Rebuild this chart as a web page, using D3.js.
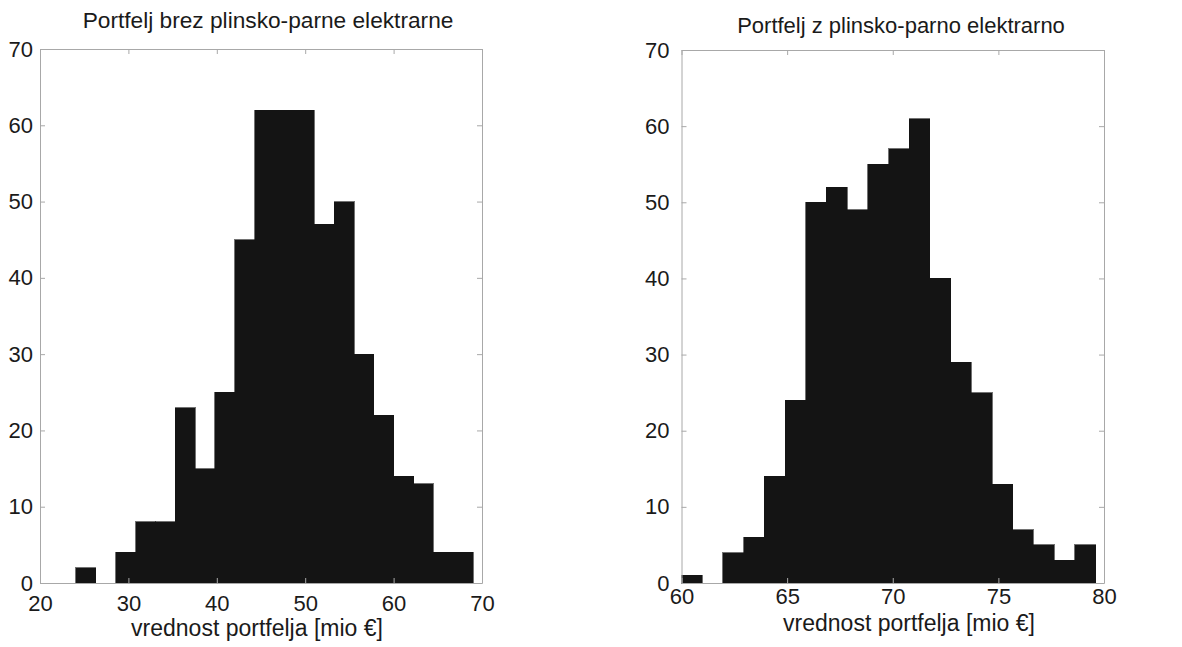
<!DOCTYPE html>
<html lang="sl">
<head>
<meta charset="utf-8">
<title>Portfelj histogrami</title>
<script src="https://cdn.jsdelivr.net/npm/d3@7"></script>
<style>
  body { margin: 0; background: #fff; }
  svg text { font-family: "Liberation Sans", Arial, Helvetica, sans-serif; fill: #1a1a1a; }
  .axis path, .axis line { stroke: #a8a8a8; }
</style>
</head>
<body>
<script>
// --- data ---
// left: portfolio without combined-cycle plant (20 bins between min and max sample)
var leftCounts = [2, 0, 4, 8, 8, 23, 15, 25, 45, 62, 62, 62, 47, 50, 30, 22, 14, 13, 4, 4];
var leftRange = [24.07, 69.0];
var leftTicks = [20, 30, 40, 50, 60, 70];
var leftDomain = [20, 70];

// right: portfolio with combined-cycle plant
var rightCounts = [1, 0, 4, 6, 14, 24, 50, 52, 49, 55, 57, 61, 40, 29, 25, 13, 7, 5, 3, 5];
var rightRange = [60.0, 79.6];
var rightTicks = [60, 65, 70, 75, 80];
var rightDomain = [60, 80];

var yTicks = [0, 10, 20, 30, 40, 50, 60, 70];
var yDomain = [0, 70];

var titles = ["Portfelj brez plinsko-parne elektrarne", "Portfelj z plinsko-parno elektrarno"];
var xLabel = "vrednost portfelja [mio \u20ac]";

var w = 1182, h = 647;
var svg = d3.select("body").append("svg").attr("width", w).attr("height", h);

function drawPanel(p) {
    var x = d3.scaleLinear().domain(p.domain).range([p.left, p.right]);
    var y = d3.scaleLinear().domain(yDomain).range([p.bottom, p.top]);
    var g = svg.append("g");

    // bin edges from the sample range
    var n = p.counts.length;
    var bw = (p.range[1] - p.range[0]) / n;
    var bins = p.counts.map(function(c, i) {
        return { x0: p.range[0] + i * bw, x1: p.range[0] + (i + 1) * bw, c: c };
    });

    g.selectAll("rect.bar")
        .data(bins.filter(function(d) { return d.c > 0; }))
        .enter().append("rect")
        .attr("class", "bar")
        .attr("x", function(d) { return x(d.x0); })
        .attr("width", function(d) { return x(d.x1) - x(d.x0); })
        .attr("y", function(d) { return y(d.c); })
        .attr("height", function(d) { return y(0) - y(d.c); })
        .attr("fill", "#141414")
        .attr("stroke", "#141414")
        .attr("stroke-width", 0.6)
        .attr("shape-rendering", "crispEdges");

    // matlab style box with inward ticks on all sides
    var axB = d3.axisBottom(x).tickValues(p.ticks).tickSize(-5).tickPadding(p.xPad).tickSizeOuter(0);
    var axT = d3.axisTop(x).tickValues(p.ticks).tickSize(-5).tickFormat("").tickSizeOuter(0);
    var axL = d3.axisLeft(y).tickValues(yTicks).tickSize(-5).tickPadding(p.yPad).tickSizeOuter(0);
    var axR = d3.axisRight(y).tickValues(yTicks).tickSize(-5).tickFormat("").tickSizeOuter(0);

    g.append("g").attr("class", "axis").attr("transform", "translate(0," + p.bottom + ")").call(axB);
    g.append("g").attr("class", "axis").attr("transform", "translate(0," + p.top + ")").call(axT);
    g.append("g").attr("class", "axis").attr("transform", "translate(" + p.left + ",0)").call(axL);
    g.append("g").attr("class", "axis").attr("transform", "translate(" + p.right + ",0)").call(axR);

    g.selectAll(".axis text").attr("font-size", "22px").attr("fill", "#1a1a1a")
        .attr("font-family", "Liberation Sans, Arial, sans-serif");
    g.selectAll(".axis .domain").attr("stroke", "#a8a8a8");

    g.append("text")
        .attr("x", p.titleX).attr("y", p.titleY)
        .attr("text-anchor", "middle")
        .attr("font-size", p.titleSize)
        .text(p.title);

    g.append("text")
        .attr("x", p.labelX).attr("y", p.labelY)
        .attr("text-anchor", "middle")
        .attr("font-size", "23px")
        .text(xLabel);
}

drawPanel({
    counts: leftCounts, range: leftRange, domain: leftDomain, ticks: leftTicks,
    left: 40, right: 482, top: 49, bottom: 583,
    xPad: 12, yPad: 7,
    title: titles[0], titleX: 268, titleY: 28, titleSize: "22.7px",
    labelX: 257, labelY: 636
});

drawPanel({
    counts: rightCounts, range: rightRange, domain: rightDomain, ticks: rightTicks,
    left: 681.5, right: 1104, top: 50, bottom: 583,
    xPad: 5, yPad: 12,
    title: titles[1], titleX: 901, titleY: 33, titleSize: "22px",
    labelX: 909, labelY: 631
});
</script>
</body>
</html>
